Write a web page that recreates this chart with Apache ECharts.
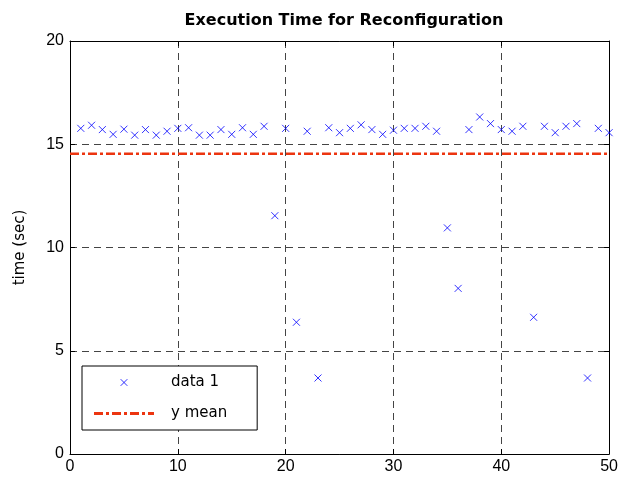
<!DOCTYPE html>
<html>
<head>
<meta charset="utf-8">
<script src="https://cdn.jsdelivr.net/npm/echarts@6/dist/echarts.min.js"></script>
<style>
  html, body { margin: 0; padding: 0; background: #fff; }
  #chart { width: 621px; height: 481px; }
</style>
</head>
<body>
<div id="chart"></div>
<script>
// run index 1..50
var runs = [
  1, 2, 3, 4, 5, 6, 7, 8, 9, 10,
  11, 12, 13, 14, 15, 16, 17, 18, 19, 20,
  21, 22, 23, 24, 25, 26, 27, 28, 29, 30,
  31, 32, 33, 34, 35, 36, 37, 38, 39, 40,
  41, 42, 43, 44, 45, 46, 47, 48, 49, 50
]
// execution time (sec)
var times = [
  15.77, 15.92, 15.71, 15.48, 15.73, 15.44, 15.71, 15.44, 15.63, 15.77,
  15.80, 15.44, 15.44, 15.71, 15.48, 15.80, 15.48, 15.87, 11.54, 15.77,
  6.38, 15.63, 3.68, 15.80, 15.56, 15.77, 15.94, 15.71, 15.48, 15.68,
  15.77, 15.77, 15.87, 15.63, 10.95, 8.02, 15.71, 16.32, 16.00, 15.71,
  15.63, 15.87, 6.62, 15.87, 15.56, 15.87, 16.00, 3.68, 15.77, 15.56
]
var xTicks = [0, 10, 20, 30, 40, 50]
var yTicks = [0, 5, 10, 15, 20]

var yMean = times.reduce(function (a, b) { return a + b }, 0) / times.length

var scatterData = runs.map(function (r, i) { return [r, times[i]] })
var meanData = [[xTicks[0], yMean], [xTicks[xTicks.length - 1], yMean]]

var crossIcon = 'path://M0,0L10,10M10,0L0,10'
// same cross with some empty room round it, so the legend draws it small
var crossLegend = 'path://M-4,-4M14,14M0,0L10,10M10,0L0,10'
// dash-dot strip for the legend
var dashDotLegend = 'path://M0,0h9v3h-9zM12,0h3v3h-3zM18,0h9v3h-9zM30,0h3v3h-3zM36,0h9v3h-9zM48,0h3v3h-3zM54,0h6v3h-6z'
var font = 'Liberation Sans, Arial, sans-serif'
var wide = 'DejaVu Sans, sans-serif'
var red = '#ec3510'

var chart = echarts.init(document.getElementById('chart'))
chart.setOption({
  animation: false,
  backgroundColor: '#fff',
  title: {
    text: 'Execution Time for Reconfiguration',
    left: 339,
    textAlign: 'center',
    top: 8,
    textStyle: { fontFamily: wide, fontSize: 16, fontWeight: 'bold', color: '#000' }
  },
  grid: { left: 70, right: 10, top: 41, bottom: 27 },
  legend: {
    orient: 'vertical',
    left: 82,
    top: 366,
    padding: [9, 30, 9, 12],
    itemGap: 16,
    itemWidth: 60,
    itemHeight: 12,
    symbolKeepAspect: true,
    borderColor: '#000',
    borderWidth: 1,
    backgroundColor: '#fff',
    textStyle: { fontFamily: wide, fontSize: 15, color: '#000', padding: [0, 0, 0, 12] },
    data: [
      { name: 'data 1', icon: crossLegend, itemStyle: { color: 'transparent', borderColor: '#0000ff', borderWidth: 1 } },
      { name: 'y mean', icon: dashDotLegend, itemStyle: { color: red, borderWidth: 0 } }
    ]
  },
  xAxis: [{
    type: 'value',
    min: 0,
    max: 50,
    interval: 10,
    axisLine: { show: true, onZero: false, lineStyle: { color: '#000', width: 1 } },
    axisTick: { show: true, inside: true, length: 5, lineStyle: { color: '#000' } },
    axisLabel: { fontFamily: font, fontSize: 16, color: '#000', margin: 5 },
    splitLine: { show: true, lineStyle: { color: '#444', type: [7, 5], width: 1 } }
  }, {
    type: 'value',
    position: 'top',
    min: 0,
    max: 50,
    interval: 10,
    axisLine: { show: true, onZero: false, lineStyle: { color: '#000', width: 1 } },
    axisTick: { show: true, inside: true, length: 5, lineStyle: { color: '#000' } },
    axisLabel: { show: false },
    splitLine: { show: false }
  }],
  yAxis: [{
    type: 'value',
    min: 0,
    max: 20,
    interval: 5,
    name: 'time (sec)',
    nameLocation: 'middle',
    nameGap: 42,
    nameTextStyle: { fontFamily: wide, fontSize: 15, color: '#000' },
    axisLine: { show: true, onZero: false, lineStyle: { color: '#000', width: 1 } },
    axisTick: { show: true, inside: true, length: 5, lineStyle: { color: '#000' } },
    axisLabel: { fontFamily: font, fontSize: 16, color: '#000', margin: 6 },
    splitLine: { show: true, lineStyle: { color: '#444', type: [7, 5], width: 1 } }
  }, {
    type: 'value',
    position: 'right',
    min: 0,
    max: 20,
    interval: 5,
    axisLine: { show: true, onZero: false, lineStyle: { color: '#000', width: 1 } },
    axisTick: { show: true, inside: true, length: 5, lineStyle: { color: '#000' } },
    axisLabel: { show: false },
    splitLine: { show: false }
  }],
  series: [{
    name: 'data 1',
    type: 'scatter',
    symbol: crossIcon,
    symbolSize: 7,
    itemStyle: { color: 'transparent', borderColor: '#0000ff', borderWidth: 1 },
    data: scatterData
  }, {
    name: 'y mean',
    type: 'line',
    symbol: 'none',
    lineStyle: { color: red, width: 2.5, type: [9, 3, 3, 3] },
    itemStyle: { color: red },
    data: meanData
  }]
})
</script>
</body>
</html>
